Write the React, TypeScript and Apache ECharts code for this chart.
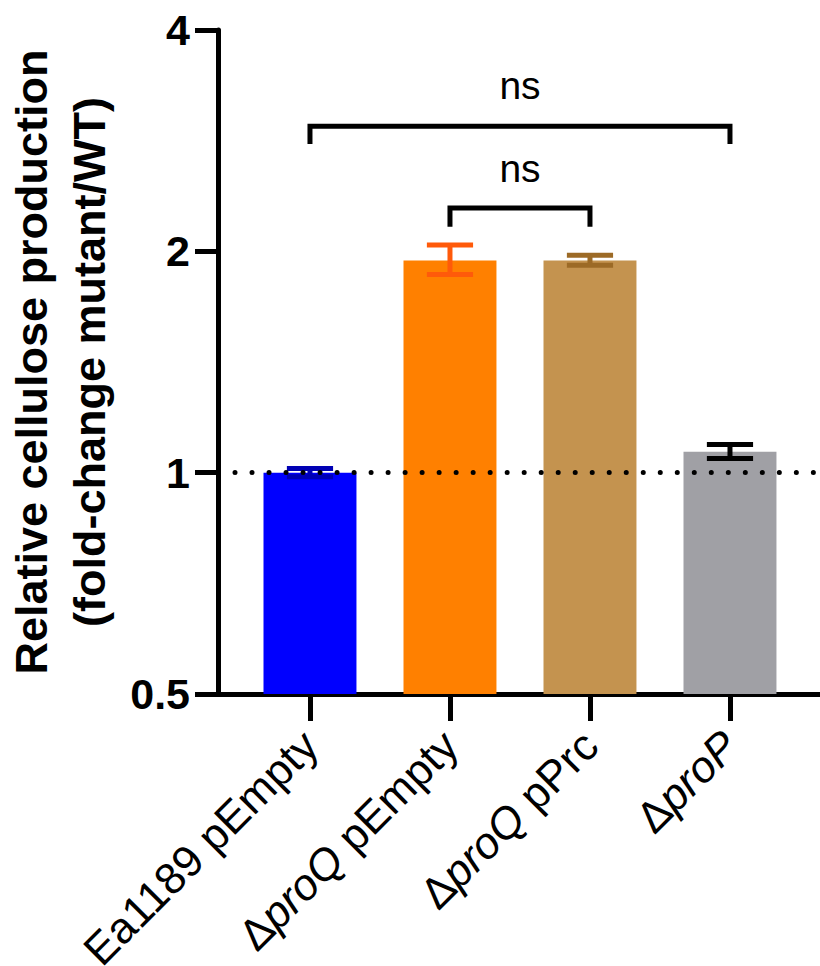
import React, { useEffect, useRef } from "react";
import * as echarts from "echarts";

// ---- data ----
const categories = ["Ea1189 pEmpty", "ΔproQ pEmpty", "ΔproQ pPrc", "ΔproP"];
const means = [1.0, 1.944, 1.944, 1.068];
const upper = [1.013, 2.04, 1.975, 1.092];
const lower = [0.987, 1.86, 1.914, 1.045];
const barColors = ["#0000FF", "#FF8000", "#C4934F", "#A0A0A5"];
const errColors = ["#0000B4", "#FF5A0A", "#9C6A26", "#000000"];
const yTicks = [0.5, 1, 2, 4];
const referenceLine = 1;
// brackets: [fromIndex, toIndex, bracketY, endY, textY]
const brackets = [
  [0, 3, 2.96, 2.8, 3.36],
  [1, 2, 2.29, 2.16, 2.59],
];
const bracketLabels = ["ns", "ns"];

const FONT = "'Liberation Sans', Arial, Helvetica, sans-serif";
const BASE = 0.5;
const BAR_W = 0.664;
const CAP_W = 0.33;

function richLabel(s: string): string {
  const m = s.match(/^Δ(pro[A-Z])(.*)$/);
  if (m) return `{n|Δ}{i|${m[1]}}{n|${m[2]}}`;
  return `{n|${s}}`;
}

export default function App() {
  const ref = useRef<HTMLDivElement>(null);
  useEffect(() => {
    if (!ref.current) return;
    const chart = echarts.init(ref.current, null, { renderer: "svg" });
    const option: any = {
      animation: false,
      backgroundColor: "#ffffff",
      grid: {
        left: 218,
        right: 0,
        top: 30,
        bottom: 272,
        containLabel: false,
        outerBoundsMode: "none",
      },
      xAxis: {
        type: "value",
        min: -0.657,
        max: 3.643,
        splitLine: { show: false },
        axisLine: { show: true, onZero: false, lineStyle: { color: "#000", width: 5 } },
        axisTick: {
          show: true,
          customValues: [0, 1, 2, 3],
          length: 27,
          inside: false,
          lineStyle: { color: "#000", width: 5 },
        },
        axisLabel: {
          show: true,
          customValues: [0, 1, 2, 3],
          rotate: 45,
          margin: 13,
          align: "right",
          verticalAlign: "top",
          padding: [0, 22, 0, 0],
          formatter: (v: number) => richLabel(categories[Math.round(v)] ?? ""),
          rich: {
            n: { fontFamily: FONT, fontSize: 44, color: "#000" },
            i: { fontFamily: FONT, fontSize: 44, fontStyle: "italic", color: "#000" },
          },
        },
      },
      yAxis: {
        type: "log",
        logBase: 2,
        min: 0.5,
        max: 4,
        splitLine: { show: false },
        axisLine: { show: true, onZero: false, lineStyle: { color: "#000", width: 5 } },
        axisTick: { show: true, length: 23, lineStyle: { color: "#000", width: 5 } },
        axisLabel: {
          margin: 28,
          fontFamily: FONT,
          fontWeight: "bold",
          fontSize: 43,
          color: "#000",
          customValues: yTicks,
          formatter: (v: number) => String(Math.round(v * 100) / 100),
        },
        name: "Relative cellulose production\n(fold-change mutant/WT)",
        nameLocation: "middle",
        nameRotate: 90,
        nameGap: 100,
        nameTextStyle: {
          fontFamily: FONT,
          fontWeight: "bold",
          fontSize: 45,
          lineHeight: 58,
          color: "#000",
        },
      },
      series: [
        {
          type: "line",
          data: [],
          z: 1,
          silent: true,
          markLine: {
            silent: true,
            symbol: "none",
            label: { show: false },
            lineStyle: { color: "#000", width: 5, type: [0.01, 17], cap: "round" },
            data: [{ yAxis: referenceLine }],
          },
        },
        {
          type: "custom",
          z: 2,
          data: means.map((v, i) => [i, v]),
          renderItem: (params: any, api: any) => {
            const i = api.value(0);
            const v = api.value(1);
            const top = api.coord([i, v]);
            const base = api.coord([i, BASE]);
            const l = api.coord([i - BAR_W / 2, v])[0];
            const r = api.coord([i + BAR_W / 2, v])[0];
            return {
              type: "rect",
              shape: { x: l, y: top[1], width: r - l, height: base[1] - top[1] },
              style: { fill: barColors[i] },
            };
          },
        },
        {
          type: "custom",
          z: 3,
          data: means.map((_, i) => [i, lower[i], upper[i]]),
          renderItem: (params: any, api: any) => {
            const i = api.value(0);
            const lo = api.coord([i, api.value(1)]);
            const hi = api.coord([i, api.value(2)]);
            const l = api.coord([i - CAP_W / 2, 1])[0];
            const r = api.coord([i + CAP_W / 2, 1])[0];
            const st = { stroke: errColors[i], lineWidth: 5 };
            return {
              type: "group",
              children: [
                { type: "line", shape: { x1: lo[0], y1: lo[1], x2: hi[0], y2: hi[1] }, style: st },
                { type: "line", shape: { x1: l, y1: hi[1], x2: r, y2: hi[1] }, style: st },
                { type: "line", shape: { x1: l, y1: lo[1], x2: r, y2: lo[1] }, style: st },
              ],
            };
          },
        },
        {
          type: "custom",
          z: 4,
          data: brackets,
          renderItem: (params: any, api: any) => {
            const a = api.value(0);
            const b = api.value(1);
            const yB = api.value(2);
            const yE = api.value(3);
            const yT = api.value(4);
            const p1 = api.coord([a, yE]);
            const p2 = api.coord([a, yB]);
            const p3 = api.coord([b, yB]);
            const p4 = api.coord([b, yE]);
            const t = api.coord([(a + b) / 2, yT]);
            return {
              type: "group",
              children: [
                {
                  type: "polyline",
                  shape: { points: [p1, p2, p3, p4] },
                  style: { stroke: "#000", lineWidth: 5, fill: "none" },
                },
                {
                  type: "text",
                  x: t[0],
                  y: t[1],
                  style: {
                    text: bracketLabels[params.dataIndex],
                    fontFamily: FONT,
                    fontSize: 39,
                    fill: "#000",
                    align: "center",
                    verticalAlign: "middle",
                  },
                },
              ],
            };
          },
        },
      ],
    };
    chart.setOption(option);
    return () => chart.dispose();
  }, []);
  return (
    <div
      ref={ref}
      style={{ position: "absolute", left: 0, top: 0, width: 820, height: 966, background: "#fff" }}
    />
  );
}
